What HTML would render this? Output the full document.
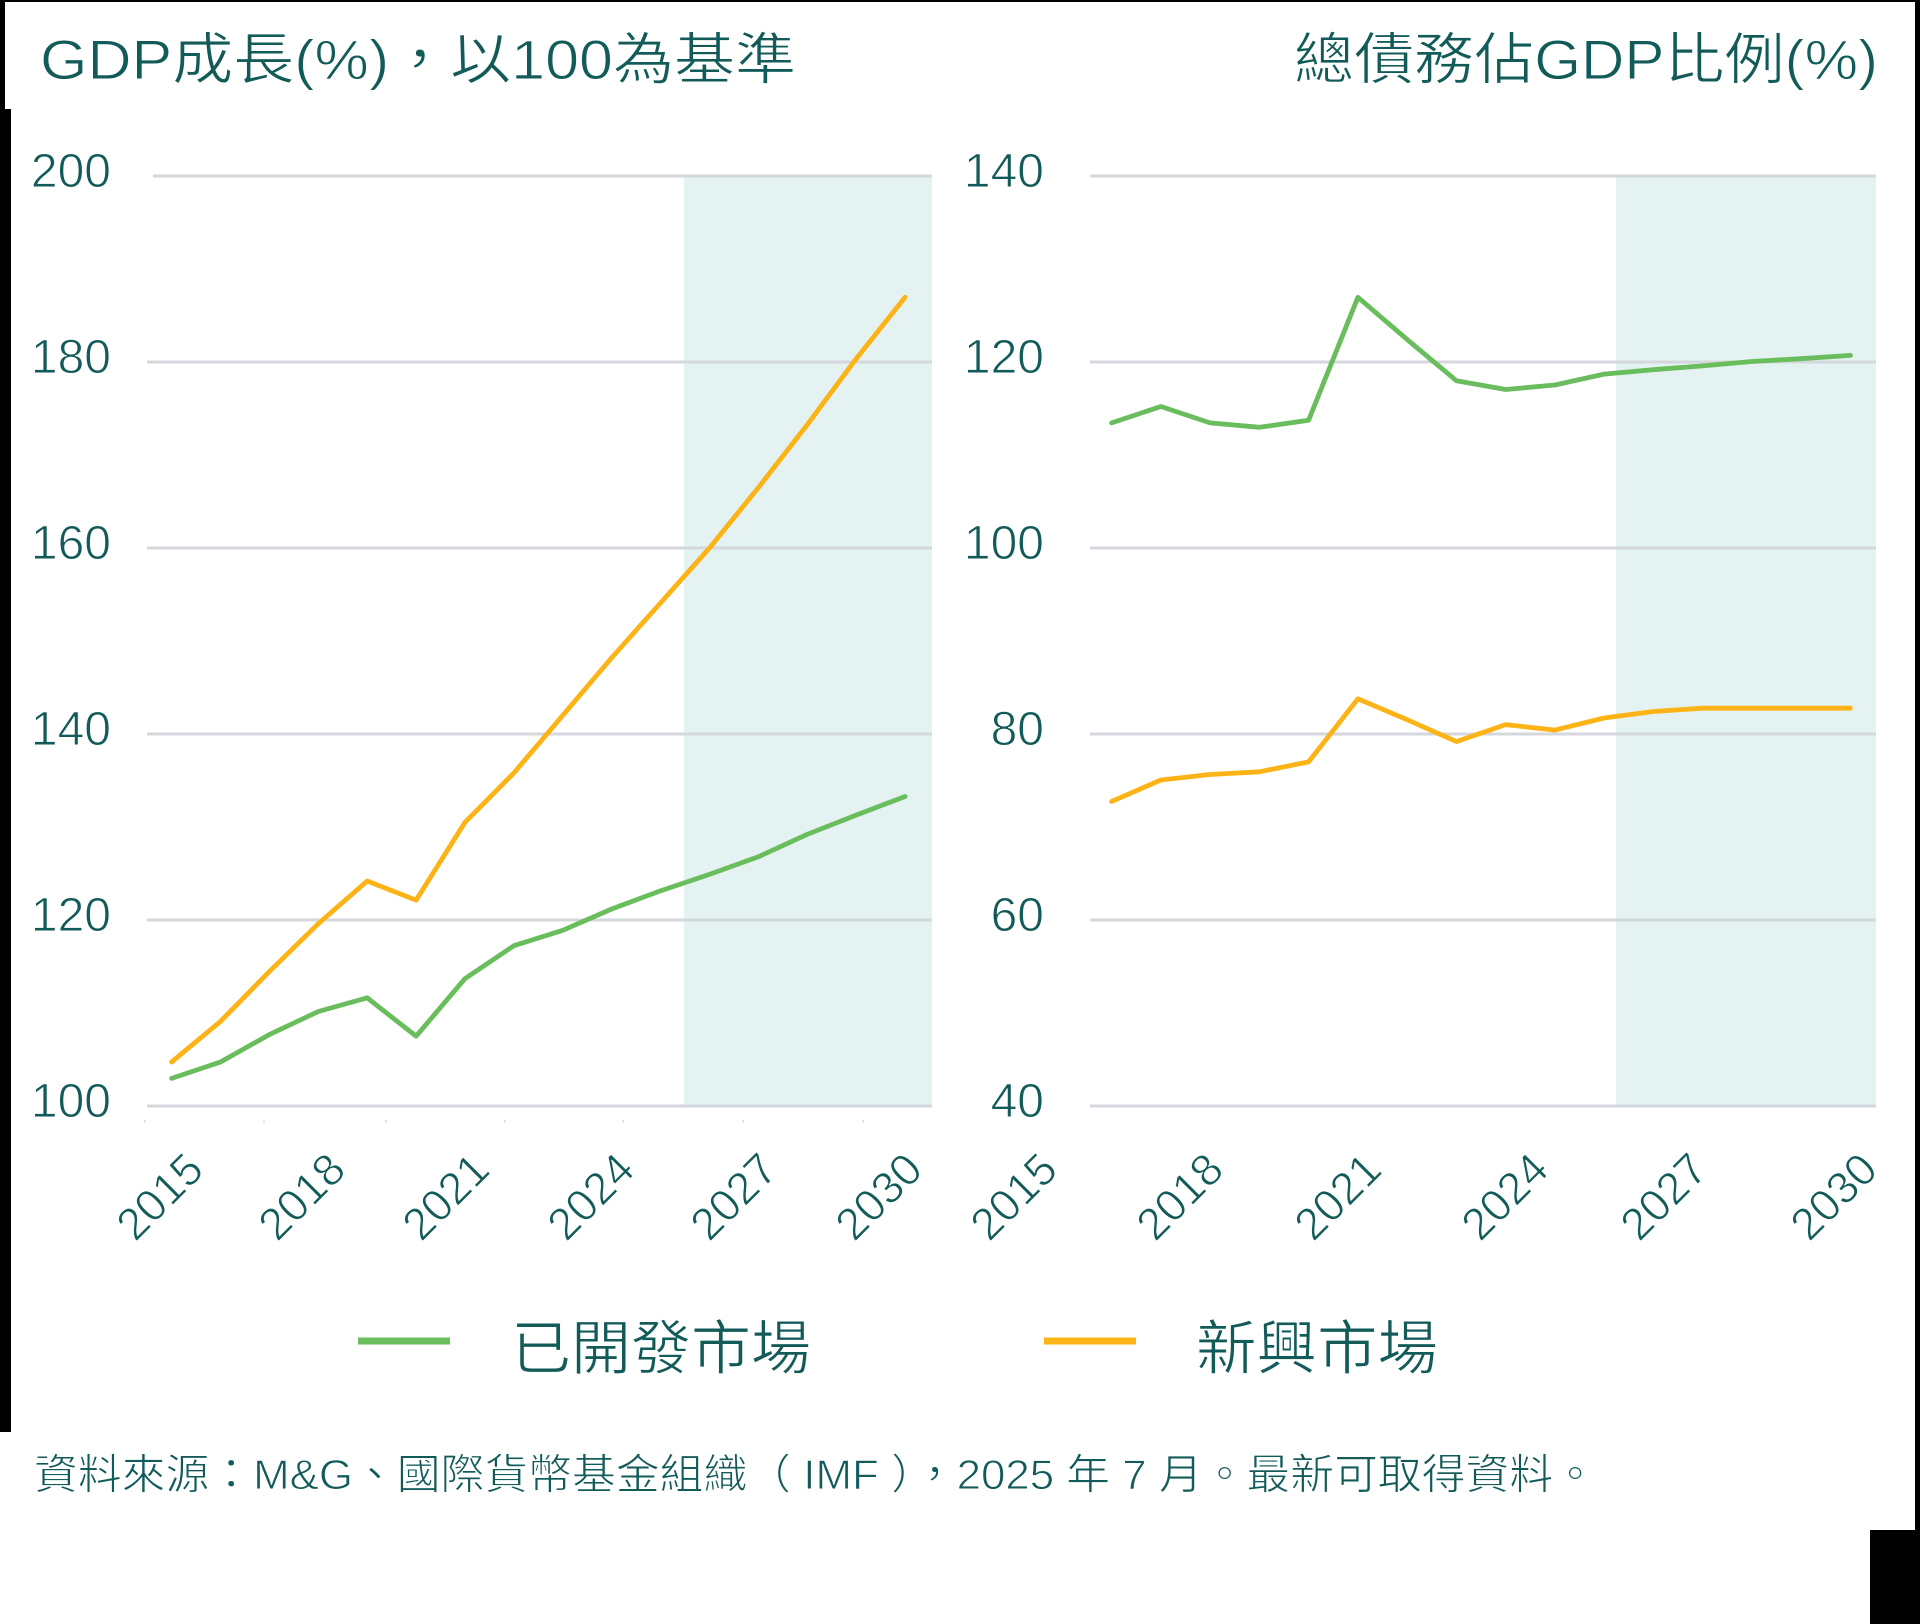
<!DOCTYPE html>
<html>
<head>
<meta charset="utf-8">
<style>
  html,body{margin:0;padding:0;background:#fff;}
  body{width:1920px;height:1624px;overflow:hidden;}
  svg{display:block;}
  text{font-family:"Liberation Sans","Noto Sans CJK TC","Noto Sans CJK SC",sans-serif;fill:#125b59;stroke:#ffffff;stroke-width:0.9px;}
</style>
</head>
<body>
<svg width="1920" height="1624" viewBox="0 0 1920 1624" xmlns="http://www.w3.org/2000/svg">
  <rect x="0" y="0" width="1920" height="1624" fill="#ffffff"/>

  <!-- black borders -->
  <rect x="0" y="0" width="1920" height="2" fill="#000"/>
  <rect x="0" y="0" width="5" height="110" fill="#000"/>
  <rect x="0" y="109" width="11" height="1323" fill="#000"/>
  <rect x="1915" y="0" width="5" height="1530" fill="#000"/>
  <rect x="1870" y="1530" width="50" height="94" fill="#000"/>

  <!-- titles -->
  <text x="40" y="79" font-size="56" textLength="756" lengthAdjust="spacingAndGlyphs">GDP成長(%)，以100為基準</text>
  <text x="1294" y="79" font-size="56" textLength="584" lengthAdjust="spacingAndGlyphs">總債務佔GDP比例(%)</text>

  <!-- shaded forecast regions -->
  <rect x="684" y="176" width="248" height="930" fill="#e4f3f2"/>
  <rect x="1616" y="176" width="260" height="930" fill="#e4f3f2"/>

  <!-- left gridlines -->
  <g stroke="#d4d7dc" stroke-width="3">
    <line x1="153" y1="176" x2="932" y2="176"/>
    <line x1="147" y1="362" x2="932" y2="362"/>
    <line x1="147" y1="548" x2="932" y2="548"/>
    <line x1="147" y1="734" x2="932" y2="734"/>
    <line x1="147" y1="920" x2="932" y2="920"/>
    <line x1="147" y1="1106" x2="932" y2="1106"/>
  </g>
  <!-- right gridlines -->
  <g stroke="#d4d7dc" stroke-width="3">
    <line x1="1090" y1="176" x2="1876" y2="176"/>
    <line x1="1090" y1="362" x2="1876" y2="362"/>
    <line x1="1090" y1="548" x2="1876" y2="548"/>
    <line x1="1090" y1="734" x2="1876" y2="734"/>
    <line x1="1090" y1="920" x2="1876" y2="920"/>
    <line x1="1090" y1="1106" x2="1876" y2="1106"/>
  </g>

  <!-- faint x ticks -->
  <g fill="#e2e4e7">
    <rect x="144" y="1120" width="2" height="3"/>
    <rect x="263" y="1120" width="2" height="3"/>
    <rect x="385" y="1120" width="2" height="3"/>
    <rect x="504" y="1120" width="2" height="3"/>
    <rect x="622" y="1120" width="2" height="3"/>
    <rect x="742" y="1120" width="2" height="3"/>
    <rect x="862" y="1120" width="2" height="3"/>
  </g>

  <!-- left y labels -->
  <g font-size="48" text-anchor="end">
    <text x="111" y="187">200</text>
    <text x="111" y="373">180</text>
    <text x="111" y="559">160</text>
    <text x="111" y="745">140</text>
    <text x="111" y="931">120</text>
    <text x="111" y="1117">100</text>
  </g>
  <!-- right y labels -->
  <g font-size="48" text-anchor="end">
    <text x="1044" y="187">140</text>
    <text x="1044" y="373">120</text>
    <text x="1044" y="559">100</text>
    <text x="1044" y="745">80</text>
    <text x="1044" y="931">60</text>
    <text x="1044" y="1117">40</text>
  </g>

  <!-- left x labels -->
  <g font-size="45" text-anchor="end">
    <text transform="translate(206,1172) rotate(-45)">2015</text>
    <text transform="translate(348,1172) rotate(-45)">2018</text>
    <text transform="translate(492,1172) rotate(-45)">2021</text>
    <text transform="translate(637,1172) rotate(-45)">2024</text>
    <text transform="translate(780,1172) rotate(-45)">2027</text>
    <text transform="translate(925,1172) rotate(-45)">2030</text>
  </g>
  <!-- right x labels -->
  <g font-size="45" text-anchor="end">
    <text transform="translate(1060,1172) rotate(-45)">2015</text>
    <text transform="translate(1226,1172) rotate(-45)">2018</text>
    <text transform="translate(1384,1172) rotate(-45)">2021</text>
    <text transform="translate(1551,1172) rotate(-45)">2024</text>
    <text transform="translate(1710,1172) rotate(-45)">2027</text>
    <text transform="translate(1880,1172) rotate(-45)">2030</text>
  </g>

  <!-- left series -->
  <polyline fill="none" stroke="#fcb316" stroke-width="4.8" stroke-linejoin="round" stroke-linecap="round"
    points="171.6,1062 220.5,1021.4 269.4,971.5 318.3,923.7 367.2,881 416.1,900.2 465,822.3 513.9,772.9 562.8,715.3 611.7,657.7 660.6,602.8 709.5,548 758.4,487.6 807.3,424.6 856.2,358.7 905.1,297.3"/>
  <polyline fill="none" stroke="#69bd5c" stroke-width="4.8" stroke-linejoin="round" stroke-linecap="round"
    points="171.6,1078.4 220.5,1062 269.4,1034.6 318.3,1011.5 367.2,997.8 416.1,1036.2 465,978.6 513.9,945.7 562.8,930.3 611.7,909 660.6,890.8 709.5,874.4 758.4,856.8 807.3,834.3 856.2,815.1 905.1,796.5"/>

  <!-- right series -->
  <polyline fill="none" stroke="#69bd5c" stroke-width="4.8" stroke-linejoin="round" stroke-linecap="round"
    points="1111.6,422.9 1160.9,406.5 1210.1,422.9 1259.4,427.3 1308.6,420.2 1357.9,297.3 1407.1,339.5 1456.4,380.7 1505.6,389.5 1554.9,385 1604.1,374.1 1653.4,369.7 1702.6,365.9 1751.9,361.5 1801.1,358.7 1850.4,355.4"/>
  <polyline fill="none" stroke="#fcb316" stroke-width="4.8" stroke-linejoin="round" stroke-linecap="round"
    points="1111.6,801.4 1160.9,780 1210.1,774.5 1259.4,771.8 1308.6,761.9 1357.9,698.8 1407.1,719.7 1456.4,741.6 1505.6,724.6 1554.9,730.1 1604.1,718 1653.4,711.5 1702.6,708.2 1751.9,708.2 1801.1,708.2 1850.4,708.2"/>

  <!-- legend -->
  <line x1="358" y1="1341" x2="450" y2="1341" stroke="#69bd5c" stroke-width="7"/>
  <text x="511" y="1369" font-size="59" textLength="300" lengthAdjust="spacingAndGlyphs">已開發市場</text>
  <line x1="1044" y1="1341" x2="1136" y2="1341" stroke="#fcb316" stroke-width="7"/>
  <text x="1196" y="1369" font-size="59" textLength="242" lengthAdjust="spacingAndGlyphs">新興市場</text>

  <!-- footnote -->
  <text x="34" y="1489" font-size="42" textLength="1563" lengthAdjust="spacingAndGlyphs">資料來源：M&amp;G、國際貨幣基金組織（ IMF ），2025 年 7 月。最新可取得資料。</text>
</svg>
</body>
</html>
